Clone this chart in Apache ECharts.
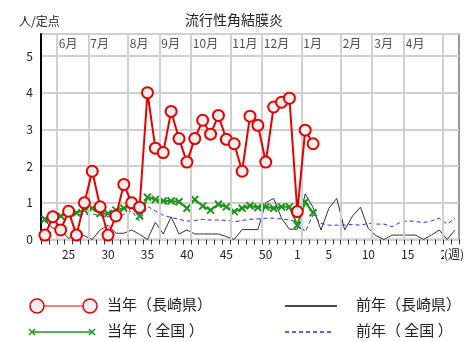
<!DOCTYPE html>
<html><head><meta charset="utf-8">
<script src="https://cdn.jsdelivr.net/npm/echarts@6/dist/echarts.min.js"></script>
<style>html,body{margin:0;padding:0;background:#fff}#c{width:468px;height:342px}</style>
</head><body><div id="c"></div>
<script>
const FONT = '"Noto Sans CJK JP", "Noto Sans", sans-serif';
const weeks = ['22','23','24','25','26','27','28','29','30','31','32','33','34','35','36','37','38','39','40','41','42','43','44','45','46','47','48','49','50','51','52','53','1','2','3','4','5','6','7','8','9','10','11','12','13','14','15','16','17','18','19','20','21'];
const tickLabels = ['25','30','35','40','45','50','1','5','10','15','20'];
const monthPos = [2,6,11,15,19,24,28,33,38,42,46,51];
const monthNames = ['6月','7月','8月','9月','10月','11月','12月','1月','2月','3月','4月',''];
const curNagasaki = [0.12,0.62,0.26,0.77,0.12,1.0,1.86,0.89,0.12,0.64,1.5,1.0,0.88,4.0,2.49,2.37,3.49,2.75,2.11,2.75,3.25,2.87,3.38,2.73,2.61,1.86,3.36,3.11,2.11,3.61,3.74,3.85,0.76,2.98,2.61];
const curNational = [0.55,0.6,0.64,0.7,0.73,0.8,0.85,0.71,0.71,0.8,0.85,0.89,0.64,1.15,1.09,1.05,1.05,1.03,0.85,1.09,0.91,0.8,0.96,0.89,0.76,0.85,0.92,0.87,0.89,0.85,0.89,0.89,0.39,1.02,0.73];
const prevNagasaki = [0.5,0.31,0.26,0.03,0.18,0.1,0.0,0.26,0.39,0.17,0.17,0.26,0.14,0.0,0.47,0.15,0.62,0.15,0.26,0.15,0.15,0.15,0.15,0.08,0.0,0.27,0.27,0.27,1.0,1.12,0.58,0.28,0.28,1.24,0.87,0.26,0.85,1.12,0.26,0.64,0.88,0.3,0.1,0.0,0.12,0.12,0.12,0.12,0.0,0.12,0.26,0.0,0.26];
const prevNational = [0.5,0.55,0.62,0.65,0.68,0.68,0.7,0.65,0.62,0.62,0.68,0.78,0.5,0.9,0.78,0.66,0.6,0.55,0.5,0.52,0.55,0.53,0.53,0.52,0.48,0.52,0.55,0.56,0.58,0.58,0.56,0.53,0.48,0.21,0.67,0.44,0.39,0.39,0.39,0.41,0.39,0.44,0.42,0.42,0.35,0.46,0.51,0.49,0.46,0.51,0.58,0.42,0.58];

const RED = '#e60000', GREEN = '#1e961e', BLUE = '#2a2aff', BLACK = '#333333';
const chart = echarts.init(document.getElementById('c'), null, {renderer:'canvas'});
const XPATH = 'path://M0,0L10,10M10,0L0,10';
chart.setOption({
  animation:false,
  backgroundColor:'#ffffff',
  textStyle:{fontFamily:FONT},
  title:[
    {text:'流行性角結膜炎', left:'center', top:8, textStyle:{fontFamily:FONT, fontSize:14, fontWeight:'normal', color:'#222'}},
    {text:'人/定点', left:14, top:10, textStyle:{fontFamily:FONT, fontSize:12, fontWeight:'normal', color:'#222'}}
  ],
  grid:{left:41, top:34, width:418, height:205.5, show:true, borderColor:'#777', borderWidth:1.5},
  xAxis:[
    {type:'category', data:weeks, boundaryGap:true,
     axisLine:{show:false},
     axisTick:{show:true, interval:0, length:5, lineStyle:{color:'#333', width:1}},
     axisLabel:{interval:(i,v)=>tickLabels.includes(v), margin:9, fontSize:12, color:'#222', fontFamily:FONT},
     splitLine:{show:false}},
    {type:'value', min:0, max:53, show:false}
  ],
  yAxis:{type:'value', min:0, max:5.6, interval:1,
    axisLine:{show:true, lineStyle:{color:'#000', width:2}},
    axisTick:{show:false},
    axisLabel:{fontSize:12, color:'#222', margin:8, fontFamily:FONT, formatter:v=> v<=5 ? String(v) : ''},
    splitLine:{lineStyle:{color:'#d0d0d0', width:2}}},
  series:[
    {type:'scatter', xAxisIndex:1, yAxisIndex:0, z:1, silent:true, symbolSize:0,
     data: monthPos.map((p,i)=>({value:[p,5.33], name:monthNames[i]})),
     label:{show:true, position:'right', distance:2, formatter:'{b}', fontSize:12, color:'#222', fontFamily:FONT},
     markLine:{silent:true, symbol:'none', label:{show:false}, animation:false,
       lineStyle:{color:'#d0d0d0', width:2, type:'solid'},
       data: monthPos.map(p=>({xAxis:p}))}},
    {name:'前年(長崎県)', type:'line', z:2, data:prevNagasaki, symbol:'none',
     lineStyle:{color:BLACK, width:1}},
    {name:'前年( 全国 )', type:'line', z:3, data:prevNational, symbol:'none',
     lineStyle:{color:BLUE, width:1, type:[4,3]}},
    {name:'当年( 全国 )', type:'line', z:4, data:curNational, symbol:XPATH, symbolSize:7, showAllSymbol:true,
     lineStyle:{color:GREEN, width:2}, itemStyle:{color:GREEN, borderColor:GREEN, borderWidth:2}},
    {name:'当年(長崎県)', type:'line', z:5, data:curNagasaki, symbol:'circle', symbolSize:11, showAllSymbol:true,
     lineStyle:{color:RED, width:2}, itemStyle:{color:'#eeeeee', borderColor:RED, borderWidth:2}}
  ],
  graphic:[
    {type:'text', left:444, top:248, z:10, style:{text:'(週)', font:'12px '+FONT, fill:'#222', backgroundColor:'#fff'}},
    {type:'line', shape:{x1:37,y1:306,x2:90,y2:306}, style:{stroke:RED, lineWidth:1}},
    {type:'circle', shape:{cx:37,cy:306,r:7}, style:{fill:'#f0f0f0', stroke:RED, lineWidth:1.5}},
    {type:'circle', shape:{cx:90,cy:306,r:7}, style:{fill:'#f0f0f0', stroke:RED, lineWidth:1.5}},
    {type:'text', left:107, top:297, style:{text:'当年（長崎県）', font:'15px '+FONT, fill:'#222'}},
    {type:'line', shape:{x1:32,y1:332,x2:92,y2:332}, style:{stroke:GREEN, lineWidth:1.5}},
    {type:'line', shape:{x1:29,y1:329,x2:35,y2:335}, style:{stroke:GREEN, lineWidth:1.5}},
    {type:'line', shape:{x1:29,y1:335,x2:35,y2:329}, style:{stroke:GREEN, lineWidth:1.5}},
    {type:'line', shape:{x1:89,y1:329,x2:95,y2:335}, style:{stroke:GREEN, lineWidth:1.5}},
    {type:'line', shape:{x1:89,y1:335,x2:95,y2:329}, style:{stroke:GREEN, lineWidth:1.5}},
    {type:'text', left:107, top:323, style:{text:'当年（ 全国 ）', font:'15px '+FONT, fill:'#222'}},
    {type:'line', shape:{x1:285,y1:306,x2:337,y2:306}, style:{stroke:'#111', lineWidth:1.5}},
    {type:'text', left:356, top:297, style:{text:'前年（長崎県）', font:'15px '+FONT, fill:'#222'}},
    {type:'line', shape:{x1:285,y1:332,x2:334,y2:332}, style:{stroke:BLUE, lineWidth:1.5, lineDash:[4,3]}},
    {type:'text', left:356, top:323, style:{text:'前年（ 全国 ）', font:'15px '+FONT, fill:'#222'}}
  ]
});
</script>
</body></html>
